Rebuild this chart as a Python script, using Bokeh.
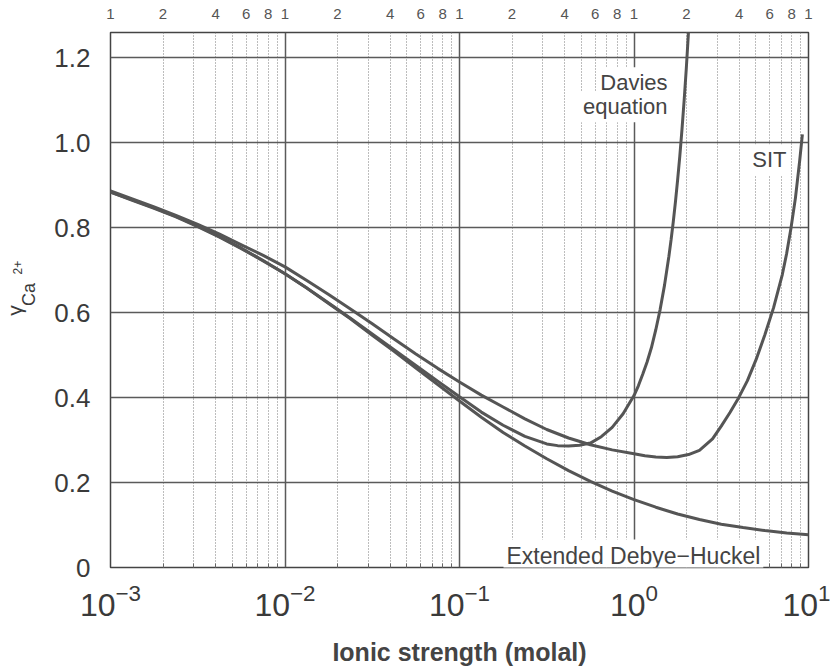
import math
from bokeh.plotting import figure
from bokeh.layouts import row
from bokeh.models import (LogAxis, FixedTicker, CustomJSTickFormatter, Label,
                          Range1d)
from bokeh.core.properties import value
from bokeh.embed import file_html
from bokeh.resources import INLINE

# ---- data (x given as log10 of ionic strength, molal) ----
dh_logI = [-3, -2.875, -2.75, -2.625, -2.5, -2.375, -2.25, -2.125, -2,
           -1.875, -1.75, -1.625, -1.5, -1.375, -1.25, -1.125, -1, -0.875,
           -0.75, -0.625, -0.5, -0.375, -0.25, -0.125, 0, 0.125, 0.25, 0.375,
           0.5, 0.625, 0.75, 0.875, 1]
dh_gamma = [0.884, 0.866, 0.847, 0.827, 0.804, 0.779, 0.752, 0.723, 0.692,
            0.658, 0.622, 0.586, 0.547, 0.509, 0.470, 0.431, 0.392, 0.354,
            0.318, 0.286, 0.256, 0.228, 0.203, 0.180, 0.160, 0.142, 0.126,
            0.113, 0.102, 0.094, 0.087, 0.081, 0.077]

dav_logI = [-3, -2.875, -2.75, -2.625, -2.5, -2.375, -2.25, -2.125, -2,
            -1.875, -1.75, -1.625, -1.5, -1.375, -1.25, -1.125, -1, -0.875,
            -0.75, -0.625, -0.5, -0.4375, -0.375, -0.3125, -0.25, -0.1875,
            -0.125, -0.0625, 0, 0.025, 0.05, 0.075, 0.1, 0.125, 0.15, 0.175,
            0.2, 0.2125, 0.225, 0.2375, 0.25, 0.2625, 0.275, 0.2875, 0.3,
            0.315]
dav_gamma = [0.884, 0.865, 0.846, 0.826, 0.803, 0.778, 0.751, 0.722, 0.692,
             0.658, 0.623, 0.587, 0.550, 0.513, 0.476, 0.439, 0.402, 0.366,
             0.335, 0.309, 0.291, 0.287, 0.286, 0.288, 0.293, 0.308, 0.330,
             0.362, 0.405, 0.428, 0.455, 0.484, 0.518, 0.560, 0.608, 0.665,
             0.733, 0.772, 0.814, 0.861, 0.913, 0.969, 1.032, 1.101, 1.177,
             1.280]

sit_logI = [-3, -2.875, -2.75, -2.625, -2.5, -2.375, -2.25, -2.125, -2,
            -1.875, -1.75, -1.625, -1.5, -1.375, -1.25, -1.125, -1, -0.875,
            -0.75, -0.625, -0.5, -0.375, -0.25, -0.125, 0, 0.0625, 0.125,
            0.1875, 0.25, 0.3125, 0.375, 0.45, 0.5, 0.55, 0.6, 0.65, 0.7,
            0.75, 0.8, 0.85, 0.875, 0.9, 0.925, 0.95, 0.965]
sit_gamma = [0.887, 0.868, 0.849, 0.829, 0.808, 0.785, 0.760, 0.735, 0.708,
             0.676, 0.643, 0.609, 0.574, 0.538, 0.503, 0.469, 0.437, 0.406,
             0.378, 0.350, 0.325, 0.305, 0.289, 0.277, 0.268, 0.263, 0.260,
             0.259, 0.261, 0.266, 0.276, 0.303, 0.333, 0.365, 0.400, 0.440,
             0.490, 0.548, 0.612, 0.690, 0.740, 0.800, 0.870, 0.960, 1.020]

decades = [-3, -2, -1, 0, 1]
minor_mult = [2, 3, 4, 5, 6, 7, 8, 9]
top_mult = [1, 2, 4, 6, 8]
y_ticks = [0, 0.2, 0.4, 0.6, 0.8, 1.0, 1.2]

LINE = "#555555"
TXT = "#3a3a3a"
FONT = "Liberation Sans"

major_x = [10.0 ** d for d in decades]
minor_x = [m * 10.0 ** d for d in decades[:-1] for m in minor_mult]
top_x = [m * 10.0 ** d for d in decades[:-1] for m in top_mult] + [10.0]

LEFT_W = 40  # width of the narrow panel holding the y-axis title
FRAME_TOP, FRAME_BOTTOM = 32, 569

p = figure(width=830 - LEFT_W, height=668, x_axis_type="log",
           x_range=(1e-3, 10), y_range=(0, 1.26),
           output_backend="svg", toolbar_location=None,
           min_border_left=110 - LEFT_W, min_border_right=22,
           min_border_top=FRAME_TOP, min_border_bottom=668 - FRAME_BOTTOM)
p.background_fill_color = "white"
p.border_fill_color = "white"
p.outline_line_color = "#444444"
p.outline_line_width = 1.5

# bottom axis
xa = p.xaxis[0]
xa.ticker = FixedTicker(ticks=major_x, minor_ticks=minor_x)
xa.axis_line_color = None
xa.major_tick_line_color = None
xa.minor_tick_line_color = "#666666"
xa.minor_tick_in = 4
xa.minor_tick_out = 0
xa.major_label_text_font = FONT
xa.major_label_text_font_size = "32px"
xa.major_label_text_color = TXT
xa.major_label_standoff = 10
xa.axis_label = "Ionic strength (molal)"
xa.axis_label_text_font = FONT
xa.axis_label_text_font_style = "bold"
xa.axis_label_text_font_size = "25px"
xa.axis_label_text_color = "#444444"
xa.axis_label_standoff = 19

# left axis
ya = p.yaxis[0]
ya.ticker = FixedTicker(ticks=y_ticks)
ya.formatter = CustomJSTickFormatter(
    code="return Math.abs(tick) < 1e-9 ? '0' : tick.toFixed(1);")
ya.axis_line_color = None
ya.major_tick_line_color = None
ya.minor_tick_line_color = None
ya.major_label_text_font = FONT
ya.major_label_text_font_size = "26px"
ya.major_label_text_color = TXT
ya.major_label_standoff = 14

# top axis with mantissa labels
top = LogAxis(ticker=FixedTicker(ticks=top_x),
              formatter=CustomJSTickFormatter(code="""
                const e = Math.floor(Math.log10(tick) + 1e-9);
                return String(Math.round(tick / Math.pow(10, e)));
              """))
top.axis_line_color = None
top.major_tick_line_color = None
top.minor_tick_line_color = None
top.major_label_text_font = FONT
top.major_label_text_font_size = "15px"
top.major_label_text_color = "#555555"
top.major_label_standoff = 8
p.add_layout(top, "above")

# grids
p.xgrid.grid_line_color = "#5a5a5a"
p.xgrid.grid_line_width = 1.5
p.xgrid.minor_grid_line_color = "#7a7a7a"
p.xgrid.minor_grid_line_width = 1
p.xgrid.minor_grid_line_dash = "1 2"
p.ygrid.grid_line_color = "#5a5a5a"
p.ygrid.grid_line_width = 1.5

# curves
for lx, gy in ((dh_logI, dh_gamma), (dav_logI, dav_gamma), (sit_logI, sit_gamma)):
    p.line([10.0 ** v for v in lx], gy, line_color=LINE, line_width=3)

# curve labels (positions given in page pixels, converted to data space)
def lbl(text, px, py, align="left", size="22px"):
    xlog = (px - 110) / 174.5 - 3
    yv = (569 - py) / 425.8
    p.add_layout(Label(x=10.0 ** xlog, y=yv, text=text, text_font=FONT,
                       text_font_size=size, text_color="#444444",
                       text_align=align, text_baseline="alphabetic",
                       background_fill_color="white", padding=3))

lbl("Davies", 670, 83, align="right")
lbl("equation", 670, 107, align="right")
lbl("SIT", 789, 160, align="right")
lbl("Extended Debye\u2212Huckel", 503, 557, align="left", size="23px")

# narrow panel with the rotated y-axis title (gamma, subscript Ca, superscript 2+)
# its frame is aligned with the main frame, so the y range maps page rows
q = figure(width=LEFT_W, height=668, x_range=Range1d(0, LEFT_W),
           y_range=Range1d(FRAME_BOTTOM, FRAME_TOP), output_backend="svg",
           toolbar_location=None, min_border=0,
           min_border_top=FRAME_TOP, min_border_bottom=668 - FRAME_BOTTOM)
q.axis.visible = False
q.grid.visible = False
q.outline_line_color = None
q.background_fill_color = "white"
q.border_fill_color = "white"
q.text(x=[14], y=[311], text=["\u03b3"], angle=math.pi / 2,
       text_font=value(FONT), text_font_size="21px", text_color=TXT,
       text_align="center", text_baseline="middle")
q.text(x=[28], y=[295], text=["Ca"], angle=math.pi / 2,
       text_font=value(FONT), text_font_size="18px", text_color=TXT,
       text_align="center", text_baseline="middle")
q.text(x=[17], y=[268], text=["2+"], angle=math.pi / 2,
       text_font=value(FONT), text_font_size="12px", text_color=TXT,
       text_align="center", text_baseline="middle")

layout = row(q, p, spacing=0)
open("out.html", "w").write(file_html(layout, INLINE))
